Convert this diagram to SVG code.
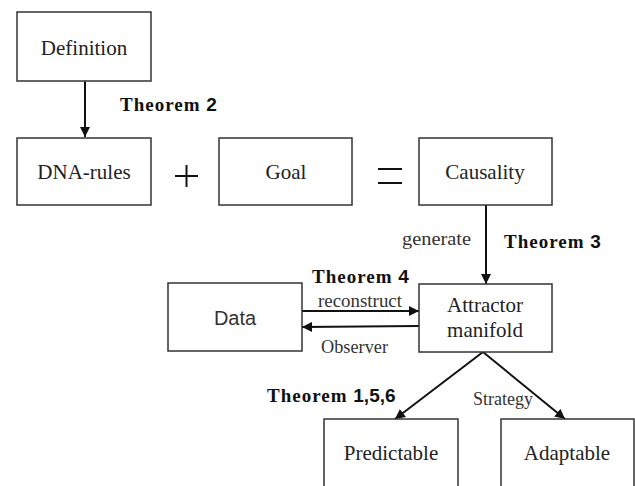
<svg xmlns="http://www.w3.org/2000/svg" width="635" height="486" viewBox="0 0 635 486">
<defs>
<style>
.box{fill:#fff;stroke:#333;stroke-width:1.5}
.t{font-family:"Liberation Serif","Times New Roman",serif;font-size:21px;fill:#222;text-anchor:middle}
.ts{font-family:"Liberation Sans",Arial,sans-serif;font-size:20px;fill:#333;text-anchor:middle}
.lbl{font-family:"Liberation Serif","Times New Roman",serif;font-size:19px;fill:#333}
.th{font-family:"Liberation Serif","Times New Roman",serif;font-size:19px;font-weight:bold;fill:#111;letter-spacing:1px}
.thn{font-family:"Liberation Sans",Arial,sans-serif;font-weight:bold;letter-spacing:0}
.ln{stroke:#111;stroke-width:2;fill:none}
.op{stroke:#111;stroke-width:2;fill:none}
</style>
<marker id="ah2" viewBox="0 0 10 10" refX="10" refY="5" markerWidth="5" markerHeight="5" orient="auto"><path d="M0,0 L10,5 L0,10 z" fill="#111"/></marker>
</defs>
<rect width="635" height="486" fill="#fff"/>
<g id="connectors">
<line class="ln" x1="85" y1="81" x2="85" y2="137" marker-end="url(#ah2)"/>
<line class="ln" x1="486" y1="205" x2="486" y2="284" marker-end="url(#ah2)"/>
<line class="ln" x1="302" y1="311" x2="419" y2="311" marker-end="url(#ah2)"/>
<line class="ln" x1="419" y1="326" x2="302" y2="327" marker-end="url(#ah2)"/>
<line class="ln" x1="483" y1="352" x2="395" y2="419" marker-end="url(#ah2)"/>
<line class="ln" x1="483" y1="352" x2="565" y2="419" marker-end="url(#ah2)"/>
</g>
<g id="definition"><rect class="box" x="17" y="12" width="134" height="69"/><text class="t" x="84" y="55">Definition</text></g>
<g id="dna-rules"><rect class="box" x="17" y="138" width="134" height="67"/><text class="t" x="84" y="179">DNA-rules</text></g>
<g id="goal"><rect class="box" x="219" y="138" width="133" height="67"/><text class="t" x="286" y="179">Goal</text></g>
<g id="causality"><rect class="box" x="419" y="138" width="133" height="67"/><text class="t" x="485" y="179">Causality</text></g>
<g id="attractor"><rect class="box" x="419" y="284" width="133" height="68"/><text class="t" x="485" y="312">Attractor</text><text class="t" x="485" y="337">manifold</text></g>
<g id="data"><rect class="box" x="168" y="283" width="134" height="68"/><text class="ts" x="235" y="325">Data</text></g>
<g id="predictable"><rect class="box" x="324" y="419" width="134" height="90"/><text class="t" x="391" y="460">Predictable</text></g>
<g id="adaptable"><rect class="box" x="501" y="419" width="133" height="90"/><text class="t" x="567" y="460">Adaptable</text></g>
<g id="operators">
<line class="op" x1="175" y1="176" x2="198" y2="176"/><line class="op" x1="186.5" y1="165" x2="186.5" y2="187"/>
<line class="op" x1="378" y1="169" x2="402" y2="169"/><line class="op" x1="378" y1="183" x2="402" y2="183"/>
</g>
<g id="labels">
<text class="th" x="120" y="111">Theorem <tspan class="thn">2</tspan></text>
<text class="th" x="504" y="248">Theorem <tspan class="thn">3</tspan></text>
<text class="th" x="312" y="283">Theorem <tspan class="thn">4</tspan></text>
<text class="th" x="267" y="402">Theorem <tspan class="thn">1,5,6</tspan></text>
<text class="lbl" x="402" y="245" textLength="69" lengthAdjust="spacingAndGlyphs">generate</text>
<text class="lbl" x="318" y="307" textLength="84" lengthAdjust="spacingAndGlyphs">reconstruct</text>
<text class="lbl" x="321" y="353" textLength="67" lengthAdjust="spacingAndGlyphs">Observer</text>
<text class="lbl" x="473" y="405" textLength="60" lengthAdjust="spacingAndGlyphs">Strategy</text>
</g>
</svg>
